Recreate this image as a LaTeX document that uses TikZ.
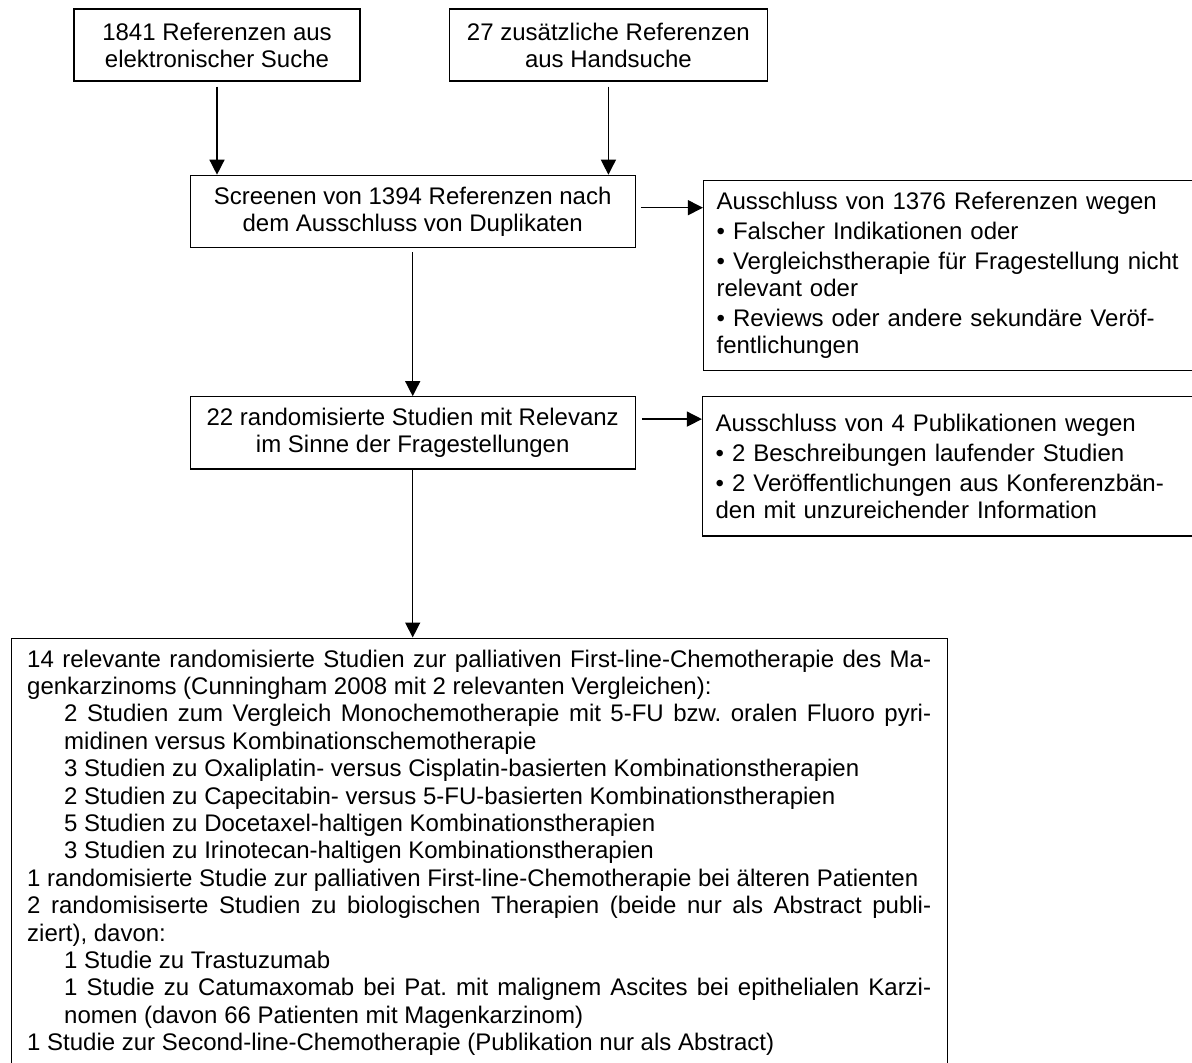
\documentclass[tikz,border=0pt]{standalone}
\usepackage{fontspec}
\setmainfont{Liberation Sans}
\usepackage{tikz}
\usetikzlibrary{arrows.meta,positioning,calc}
\frenchspacing
\tikzset{
  sbox/.style={draw,line width=0.7pt,minimum height=36pt,inner sep=4pt,
               font=\fontsize{12pt}{13.5pt}\selectfont,align=center},
  xbox/.style={draw,line width=0.7pt,minimum width=245pt,inner xsep=6.5pt,
               text width=232pt,font=\fontsize{12pt}{13.5pt}\selectfont,align=left},
  rbox/.style={draw,line width=0.7pt,minimum width=468pt,minimum height=214.5pt,
               inner xsep=8pt,text width=452pt,
               font=\fontsize{12pt}{13.7pt}\selectfont,align=justify},
  arr/.style={-{Triangle[length=7.5pt,width=7.5pt]},line width=0.7pt},
}

\begin{document}
\begin{tikzpicture}
  \useasboundingbox (0,0) rectangle (596pt,-531.5pt);
  \node[sbox,minimum width=143pt] (elek) at (108.5pt,-22.5pt) {1841 Referenzen aus\\elektronischer Suche};
  \node[sbox,minimum width=159pt,right=44pt of elek] (hand) {27 zusätzliche Referenzen\\aus Handsuche};
  \coordinate (mid) at ($(elek.south)!.5!(hand.south)$);
  \node[sbox,minimum width=222.5pt,below=46.5pt of mid] (screen) {Screenen von 1394 Referenzen nach\\dem Ausschluss von Duplikaten};
  \node[xbox,minimum height=95pt,right=33.5pt of screen.north east,anchor=north west,yshift=-2.5pt] (ex1)
    {Ausschluss von 1376 Referenzen wegen\\[1.5pt]
     • Falscher Indikationen oder\\[1.5pt]
     • Vergleichstherapie für Fragestellung nicht\\relevant oder\\[1.5pt]
     • Reviews oder andere sekundäre Veröf-\\fentlichungen};
  \node[sbox,minimum width=222.5pt,below=74pt of screen] (rct) {22 randomisierte Studien mit Relevanz\\im Sinne der Fragestellungen};
  \node[xbox,minimum height=69.5pt,right=33pt of rct.north east,anchor=north west] (ex2)
    {Ausschluss von 4 Publikationen wegen\\[1.5pt]
     • 2 Beschreibungen laufender Studien\\[1.5pt]
     • 2 Veröffentlichungen aus Konferenzbän-\\den mit unzureichender Information};
  \node[rbox,below=84pt of rct,xshift=33.25pt] (incl)
    {\parindent=0pt\hyphenpenalty=10000\exhyphenpenalty=10000
     14 relevante randomisierte Studien zur palliativen First-line-Chemotherapie des Ma-\break
     genkarzinoms (Cunningham 2008 mit 2 relevanten Vergleichen):\par
     {\leftskip=18.5pt
     2 Studien zum Vergleich Monochemotherapie mit 5-FU bzw. oralen Fluoro pyri-\break
     midinen versus Kombinationschemotherapie\par
     3 Studien zu Oxaliplatin- versus Cisplatin-basierten Kombinationstherapien\par
     2 Studien zu Capecitabin- versus 5-FU-basierten Kombinationstherapien\par
     5 Studien zu Docetaxel-haltigen Kombinationstherapien\par
     3 Studien zu Irinotecan-haltigen Kombinationstherapien\par}
     1 randomisierte Studie zur palliativen First-line-Chemotherapie bei älteren Patienten\par
     2 randomisiserte Studien zu biologischen Therapien (beide nur als Abstract publi-\break
     ziert), davon:\par
     {\leftskip=18.5pt
     1 Studie zu Trastuzumab\par
     1 Studie zu Catumaxomab bei Pat. mit malignem Ascites bei epithelialen Karzi-\break
     nomen (davon 66 Patienten mit Magenkarzinom)\par}
     1 Studie zur Second-line-Chemotherapie (Publikation nur als Abstract)};

  \draw[arr,shorten <=2.5pt](elek.south) -- (elek.south |- screen.north);
  \draw[arr,shorten <=2.5pt](hand.south) -- (hand.south |- screen.north);
  \draw[arr,shorten <=2.5pt]([yshift=-16.5pt]screen.north east) -- ([yshift=-16.5pt]screen.north east -| ex1.west);
  \draw[arr,shorten <=2pt](screen) -- (rct);
  \draw[arr,shorten <=3pt]([yshift=-11.5pt]rct.north east) -- ([yshift=-11.5pt]rct.north east -| ex2.west);
  \draw[arr](rct.south) -- (rct.south |- incl.north);
\end{tikzpicture}
\end{document}
